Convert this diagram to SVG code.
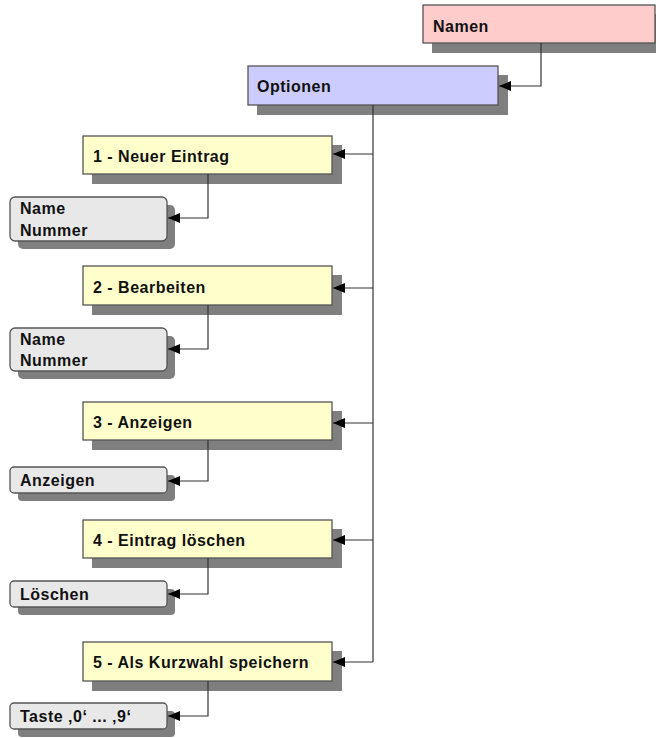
<svg xmlns="http://www.w3.org/2000/svg" width="656" height="738" viewBox="0 0 656 738">
<defs>
<style>
.sh{fill:#7f7f7f}
.bx{stroke:#555;stroke-width:1.3}
.red{fill:#ffcccc}
.blue{fill:#ccccff}
.yel{fill:#ffffcc}
.gry{fill:#e8e8e8}
.t{font-family:"Liberation Sans",Arial,sans-serif;font-weight:bold;font-size:16px;letter-spacing:0.5px;fill:#111}
.c{fill:none;stroke:#333;stroke-width:1.2}
</style>
<marker id="ah" markerWidth="12" markerHeight="10" refX="12" refY="5" orient="auto" markerUnits="userSpaceOnUse" viewBox="0 0 12 10">
<path d="M0,0 L12,5 L0,10 Z" fill="#000"/>
</marker>
</defs>
<rect width="656" height="738" fill="#fff"/>
<g id="namen">
<rect class="sh" x="432" y="14" width="232" height="39"/>
<rect class="bx red" x="423" y="5" width="232" height="38"/>
<text class="t" x="433" y="32">Namen</text>
</g>
<g id="optionen">
<rect class="sh" x="257" y="75" width="251" height="40"/>
<rect class="bx blue" x="248" y="66" width="250" height="39"/>
<text class="t" x="257" y="92">Optionen</text>
</g>
<g id="opt1">
<rect class="sh" x="92" y="145" width="250" height="39"/>
<rect class="bx yel" x="83" y="136" width="249" height="38"/>
<text class="t" x="93" y="162">1 - Neuer Eintrag</text>
</g>
<g id="sub1">
<rect class="sh" x="18" y="205" width="157" height="44" rx="5"/>
<rect class="bx gry" x="10" y="197" width="157" height="44" rx="5"/>
<text class="t" x="20" y="214">Name</text>
<text class="t" x="20" y="236">Nummer</text>
</g>
<g id="opt2">
<rect class="sh" x="92" y="275" width="250" height="40"/>
<rect class="bx yel" x="83" y="266" width="249" height="39"/>
<text class="t" x="93" y="293">2 - Bearbeiten</text>
</g>
<g id="sub2">
<rect class="sh" x="18" y="336" width="157" height="43" rx="5"/>
<rect class="bx gry" x="10" y="328" width="157" height="43" rx="5"/>
<text class="t" x="20" y="345">Name</text>
<text class="t" x="20" y="366">Nummer</text>
</g>
<g id="opt3">
<rect class="sh" x="92" y="411" width="250" height="39"/>
<rect class="bx yel" x="83" y="402" width="249" height="38"/>
<text class="t" x="93" y="428">3 - Anzeigen</text>
</g>
<g id="sub3">
<rect class="sh" x="18" y="475" width="157" height="26" rx="4"/>
<rect class="bx gry" x="10" y="467" width="157" height="26" rx="4"/>
<text class="t" x="20" y="486">Anzeigen</text>
</g>
<g id="opt4">
<rect class="sh" x="92" y="529" width="250" height="39"/>
<rect class="bx yel" x="83" y="520" width="249" height="38"/>
<text class="t" x="93" y="546">4 - Eintrag löschen</text>
</g>
<g id="sub4">
<rect class="sh" x="18" y="589" width="157" height="26" rx="4"/>
<rect class="bx gry" x="10" y="581" width="157" height="26" rx="4"/>
<text class="t" x="20" y="600">Löschen</text>
</g>
<g id="opt5">
<rect class="sh" x="92" y="651" width="250" height="40"/>
<rect class="bx yel" x="83" y="642" width="249" height="39"/>
<text class="t" x="93" y="668">5 - Als Kurzwahl speichern</text>
</g>
<g id="sub5">
<rect class="sh" x="18" y="711" width="157" height="26" rx="4"/>
<rect class="bx gry" x="10" y="703" width="157" height="26" rx="4"/>
<text class="t" x="20" y="722">Taste ‚0‘ ... ‚9‘</text>
</g>
<g id="connectors">
<path class="c" d="M541,43 V86 H499" marker-end="url(#ah)"/>
<path class="c" d="M373,105 V662"/>
<path class="c" d="M373,154 H333" marker-end="url(#ah)"/>
<path class="c" d="M373,288 H333" marker-end="url(#ah)"/>
<path class="c" d="M373,423 H333" marker-end="url(#ah)"/>
<path class="c" d="M373,540 H333" marker-end="url(#ah)"/>
<path class="c" d="M373,662 H333" marker-end="url(#ah)"/>
<path class="c" d="M208,174 V218 H168" marker-end="url(#ah)"/>
<path class="c" d="M208,305 V349 H168" marker-end="url(#ah)"/>
<path class="c" d="M208,440 V481 H168" marker-end="url(#ah)"/>
<path class="c" d="M208,558 V594 H168" marker-end="url(#ah)"/>
<path class="c" d="M208,681 V716 H168" marker-end="url(#ah)"/>
</g>
</svg>
